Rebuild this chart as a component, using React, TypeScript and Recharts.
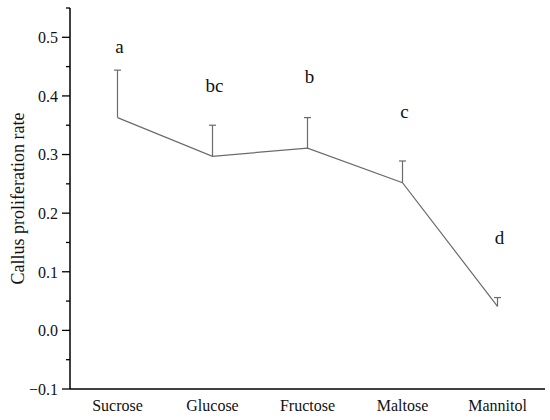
import { ComposedChart, Line, Bar, XAxis, YAxis, Label } from 'recharts';

// sugar source treatments
const categories = ['Sucrose', 'Glucose', 'Fructose', 'Maltose', 'Mannitol'];
// mean callus proliferation rate
const means = [0.363, 0.297, 0.311, 0.252, 0.041];
// upper error (SD), drawn one-sided
const errors = [0.081, 0.053, 0.052, 0.037, 0.015];
// significance letters and the value where their baseline sits
const letters = ['a', 'bc', 'b', 'c', 'd'];
const letterY = [0.474, 0.407, 0.422, 0.362, 0.148];

const yTicks = [-0.1, -0.05, 0, 0.05, 0.1, 0.15, 0.2, 0.25, 0.3, 0.35, 0.4, 0.45, 0.5, 0.55];
const majorTicks = [-0.1, 0, 0.1, 0.2, 0.3, 0.4, 0.5];

const data = categories.map((name, i) => ({
  name,
  mean: means[i],
  range: [means[i], means[i] + errors[i]],
  letterY: letterY[i],
  letter: letters[i],
}));

const FONT = "'Liberation Serif', 'Times New Roman', serif";
const GREY = '#6b6b6b';
const textStyle = (size: number) => ({ fontSize: size, fontFamily: FONT, fill: '#111' });

const fmt = (v: number) => (v < 0 ? '\u2212' + Math.abs(v).toFixed(1) : v.toFixed(1));

function YTick(props: any) {
  const { x, y, payload } = props;
  const v = payload.value;
  const major = majorTicks.some((t) => Math.abs(t - v) < 1e-9);
  // x is label position: axis line sits tickSize + tickMargin to the right
  const ax = x + 12;
  return (
    <g>
      <line x1={major ? ax - 8 : ax - 4} x2={ax} y1={y} y2={y} stroke="#000" strokeWidth={1.3} />
      {major && (
        <text x={x} y={y} dy="0.36em" textAnchor="end" style={textStyle(16)}>
          {fmt(v)}
        </text>
      )}
    </g>
  );
}

function XTick(props: any) {
  const { x, y, payload } = props;
  return (
    <text x={x} y={y} dy="0.71em" textAnchor="middle" style={textStyle(16)}>
      {payload.value}
    </text>
  );
}

function ErrorShape(props: any) {
  const { x, y, width, height } = props;
  const cx = x + width / 2;
  return (
    <g>
      <line x1={cx} x2={cx} y1={y} y2={y + height} stroke={GREY} strokeWidth={1.2} />
      <line x1={cx - 3.5} x2={cx + 3.5} y1={y} y2={y} stroke={GREY} strokeWidth={1.2} />
    </g>
  );
}

function LetterDot(props: any) {
  const { cx, cy, payload, index } = props;
  return (
    <text key={index} x={cx + 2} y={cy} textAnchor="middle" style={textStyle(19)}>
      {payload.letter}
    </text>
  );
}

export default function App() {
  return (
    <div style={{ position: 'absolute', left: 0, top: 0, background: '#fff' }}>
      <ComposedChart
        width={550}
        height={420}
        data={data}
        margin={{ top: 8, right: 5, bottom: 0, left: 0 }}
      >
        <XAxis
          dataKey="name"
          height={31}
          tickLine={false}
          tickMargin={5}
          stroke="#000"
          strokeWidth={1.5}
          tick={<XTick />}
        />
        <YAxis
          width={70}
          domain={[-0.1, 0.55]}
          ticks={yTicks}
          interval={0}
          tickSize={8}
          tickMargin={4}
          tickLine={false}
          stroke="#000"
          strokeWidth={1.5}
          tick={<YTick />}
        >
          <Label
            value="Callus proliferation rate"
            angle={-90}
            position="center"
            dx={-17}
            style={textStyle(18)}
          />
        </YAxis>
        <Bar dataKey="range" shape={<ErrorShape />} isAnimationActive={false} />
        <Line
          type="linear"
          dataKey="mean"
          stroke={GREY}
          strokeWidth={1.2}
          dot={false}
          activeDot={false}
          isAnimationActive={false}
        />
        <Line
          type="linear"
          dataKey="letterY"
          stroke="none"
          dot={<LetterDot />}
          activeDot={false}
          isAnimationActive={false}
        />
      </ComposedChart>
    </div>
  );
}
